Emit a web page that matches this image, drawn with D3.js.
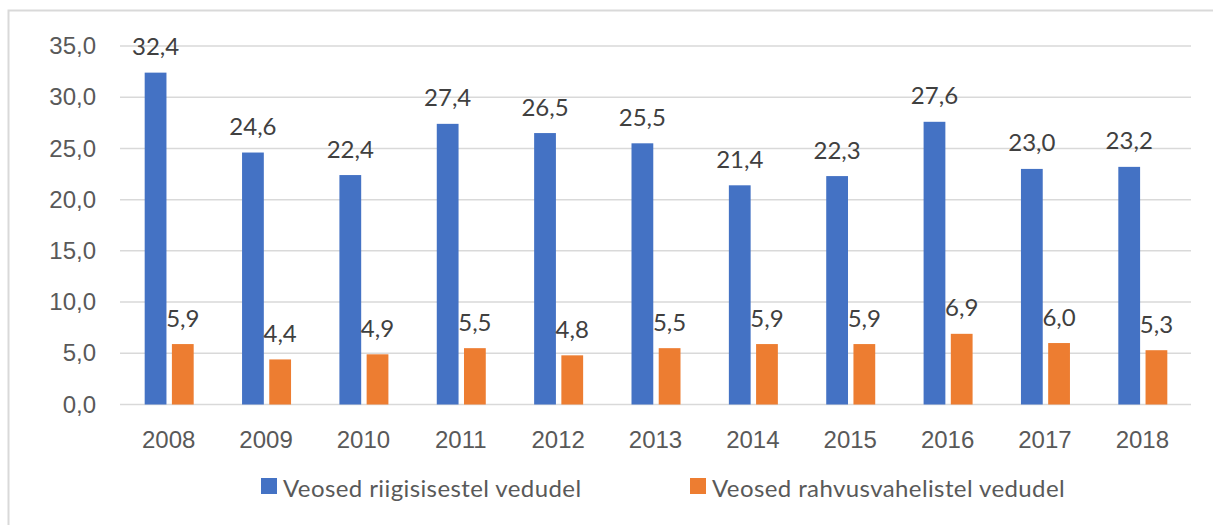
<!DOCTYPE html>
<html>
<head>
<meta charset="utf-8">
<script src="https://cdn.jsdelivr.net/npm/d3@7"></script>
<style>
  body { margin: 0; background: #fff; }
  svg { display: block; font-family: Lato, "Open Sans", sans-serif; }
</style>
</head>
<body>
<script>
// data
var years = ["2008", "2009", "2010", "2011", "2012", "2013", "2014", "2015", "2016", "2017", "2018"];
var domestic = [32.4, 24.6, 22.4, 27.4, 26.5, 25.5, 21.4, 22.3, 27.6, 23.0, 23.2];
var international = [5.9, 4.4, 4.9, 5.5, 4.8, 5.5, 5.9, 5.9, 6.9, 6.0, 5.3];
var seriesNames = ["Veosed riigisisestel vedudel", "Veosed rahvusvahelistel vedudel"];
var yTicks = [0, 5, 10, 15, 20, 25, 30, 35];

var colors = ["#4472C4", "#ED7D31"],
    W = 1213, H = 525,
    plotLeft = 120, plotRight = 1191,
    y0 = 404.5, yTop = 46;

var svg = d3.select("body").append("svg")
    .attr("width", W)
    .attr("height", H);

// outer frame
svg.append("rect")
    .attr("x", 8.5).attr("y", 10.5)
    .attr("width", W + 20).attr("height", H + 20)
    .attr("fill", "none")
    .attr("stroke", "#d9d9d9")
    .attr("stroke-width", 2);

var x = d3.scaleBand().domain(years).range([plotLeft, plotRight]);
var x1 = d3.scaleBand().domain([0, 1]).range([0, 49]).paddingInner(0.2);
var y = d3.scaleLinear().domain([0, 35]).range([y0, yTop]);

var fmt = function (v) { return d3.format(".1f")(v).replace(".", ","); };

// gridlines
svg.append("g").selectAll("line")
    .data(yTicks)
    .enter().append("line")
    .attr("x1", plotLeft).attr("x2", plotRight)
    .attr("y1", function (d) { return y(d); })
    .attr("y2", function (d) { return y(d); })
    .attr("stroke", "#d9d9d9")
    .attr("stroke-width", 1.5);

// y axis labels
var yAxis = d3.axisLeft(y).tickValues(yTicks).tickFormat(fmt).tickSize(0).tickPadding(0);
var gy = svg.append("g")
    .attr("transform", "translate(96,0)")
    .call(yAxis);
gy.select(".domain").remove();
gy.selectAll("text")
    .attr("fill", "#595959")
    .style("font-size", "24px");

// x axis labels
var xAxis = d3.axisBottom(x).tickSize(0).tickPadding(0);
var gx = svg.append("g")
    .attr("transform", "translate(0,431)")
    .call(xAxis);
gx.select(".domain").remove();
gx.selectAll("text")
    .attr("fill", "#595959")
    .style("font-size", "24px");

var table = years.map(function (yr, i) {
    return { year: yr, values: [domestic[i], international[i]] };
});

var groups = svg.append("g").selectAll("g")
    .data(table)
    .enter().append("g")
    .attr("transform", function (d) {
        return "translate(" + (x(d.year) + x.bandwidth() / 2 - 24) + ",0)";
    });

var bars = groups.selectAll("g")
    .data(function (d) { return d.values.map(function (v, k) { return { k: k, v: v }; }); })
    .enter().append("g");

bars.append("rect")
    .attr("x", function (d) { return x1(d.k); })
    .attr("y", function (d) { return y(d.v); })
    .attr("width", x1.bandwidth())
    .attr("height", function (d) { return y0 - y(d.v); })
    .attr("fill", function (d) { return colors[d.k]; });

bars.append("text")
    .attr("x", function (d) { return x1(d.k) + x1.bandwidth() / 2; })
    .attr("y", function (d) { return y(d.v) - 17.5; })
    .attr("text-anchor", "middle")
    .attr("fill", "#404040")
    .style("font-size", "24px")
    .text(function (d) { return fmt(d.v); });

// legend
var legendX = [261, 690];
var legend = svg.append("g").selectAll("g")
    .data(seriesNames)
    .enter().append("g")
    .attr("transform", function (d, i) { return "translate(" + legendX[i] + ",478)"; });

legend.append("rect")
    .attr("width", 16).attr("height", 16)
    .attr("fill", function (d, i) { return colors[i]; });

legend.append("text")
    .attr("x", 22).attr("y", 19)
    .attr("fill", "#595959")
    .style("font-size", "24px")
    .style("letter-spacing", "0.4px")
    .text(function (d) { return d; });
</script>
</body>
</html>
